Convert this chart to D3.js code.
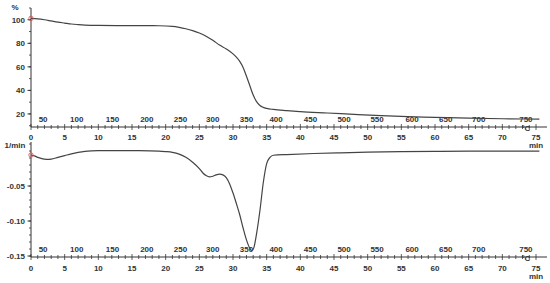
<!DOCTYPE html>
<html>
<head>
<meta charset="utf-8">
<script src="https://cdn.jsdelivr.net/npm/d3@7"></script>
<style>
    body { margin: 0; background: #fff; }
    svg text { font-family: "Liberation Sans", Arial, sans-serif; font-weight: bold; font-size: 8px; fill: #333; }
</style>
</head>
<body>
<svg></svg>
<script>
// TG curve (mass, %) against time (min)
const tgTime = [0, 1, 2, 3, 4, 5, 6, 7, 8, 10, 13, 16, 19, 21, 22, 23, 24, 25, 26, 27, 28, 29, 30, 30.5, 31, 31.5, 32,
    32.5, 33, 33.5, 34, 34.5, 35, 36, 38, 40, 44, 48, 52, 56, 60, 65, 70, 75.5];
const tgValue = [101.2, 100.8, 100.0, 99.0, 98.0, 97.2, 96.4, 95.9, 95.5, 95.2, 95.1, 95.0, 94.9, 94.4, 93.6, 92.4,
    90.8, 88.7, 86.0, 82.6, 78.5, 75.2, 71.0, 68.2, 64.6, 59.5, 52.0, 44.0, 36.0, 30.5, 27.2, 25.6, 24.7, 23.8, 22.8,
    22.0, 20.8, 19.6, 18.5, 17.7, 17.1, 16.4, 15.9, 15.6];

// DTG curve (1/min) against time (min)
const dtgTime = [0, 0.5, 1, 1.5, 2, 2.5, 3, 4, 5, 6, 7, 8, 9, 10, 13, 16, 19, 20, 21, 22, 23, 24, 25, 25.5, 26, 26.5,
    27, 27.5, 28, 28.5, 29, 29.5, 30, 30.5, 31, 31.5, 32, 32.5, 32.8, 33.1, 33.5, 34, 34.5, 35, 35.5, 36, 38, 42, 46,
    50, 55, 60, 65, 70, 75.5];
const dtgValue = [-0.0057, -0.007, -0.009, -0.0105, -0.0115, -0.012, -0.0115, -0.009, -0.0065, -0.004, -0.002,
    -0.0005, 0.0003, 0.0006, 0.0007, 0.0006, 0, -0.0008, -0.002, -0.0045, -0.009, -0.016, -0.025, -0.031, -0.035,
    -0.037, -0.036, -0.034, -0.033, -0.034, -0.038, -0.047, -0.06, -0.075, -0.091, -0.11, -0.127, -0.139, -0.1425,
    -0.138, -0.118, -0.085, -0.045, -0.018, -0.009, -0.006, -0.005, -0.0035, -0.0025, -0.0015, -0.0008, -0.0004,
    -0.0002, 0, 0];

// temperature labels and the time at which they sit
const tempLabels = [50, 100, 150, 200, 250, 300, 350, 400, 450, 500, 550, 600, 650, 700, 750];
const tempTimes = [1.8, 6.8, 12.1, 17.2, 22.2, 27.0, 32.0, 36.4, 41.5, 46.5, 51.4, 56.6, 61.6, 66.5, 73.5];

const timeTicks = [0, 5, 10, 15, 20, 25, 30, 35, 40, 45, 50, 55, 60, 65, 70, 75];
const tgTicks = [20, 40, 60, 80, 100];
const dtgTicks = [-0.05, -0.10, -0.15];

const width = 550;
const height = 283;
const svg = d3.select("svg").attr("width", width).attr("height", height);

const x = d3.scaleLinear().domain([0, 75]).range([31, 536]);
const xEnd = 547;

const panels = [
    {
        y: d3.scaleLinear().domain([8.9, 110]).range([127, 8]),
        time: tgTime, value: tgValue,
        ticks: tgTicks, minorStep: 10, format: d => d,
        unit: "%", unitY: 7, tempY: 119, timeY: 137
    },
    {
        y: d3.scaleLinear().domain([-0.1514, 0.0129]).range([257, 142]),
        time: dtgTime, value: dtgValue,
        ticks: dtgTicks, minorStep: 0.01, format: d => "-" + d3.format(".2f")(-d),
        unit: "1/min", unitY: 145, tempY: 249, timeY: 268
    }
];

const line = d3.line().curve(d3.curveMonotoneX);

panels.forEach(function (p) {
    const g = svg.append("g");
    const [y0, y1] = p.y.range();

    // y axis
    g.append("line")
        .attr("x1", x(0)).attr("x2", x(0))
        .attr("y1", y0).attr("y2", y1)
        .attr("stroke", "#333").attr("stroke-width", 1);

    const [d0, d1] = p.y.domain();
    const minor = d3.range(Math.ceil(d0 / p.minorStep), Math.floor(d1 / p.minorStep) + 1)
        .map(i => i * p.minorStep);
    g.selectAll(".ymin").data(minor).join("line")
        .attr("x1", x(0) - 2).attr("x2", x(0))
        .attr("y1", d => p.y(d)).attr("y2", d => p.y(d))
        .attr("stroke", "#333").attr("stroke-width", 0.8);

    g.selectAll(".ymaj").data(p.ticks).join("line")
        .attr("x1", x(0) - 3.5).attr("x2", x(0))
        .attr("y1", d => p.y(d)).attr("y2", d => p.y(d))
        .attr("stroke", "#333").attr("stroke-width", 1);

    g.selectAll(".ylab").data(p.ticks).join("text")
        .attr("x", x(0) - 6).attr("y", d => p.y(d) + 3)
        .attr("text-anchor", "end")
        .text(p.format);

    g.append("text")
        .attr("x", 15).attr("y", p.unitY + 3)
        .attr("text-anchor", "middle")
        .text(p.unit);

    // x axis (time) with crossing ticks
    g.append("line")
        .attr("x1", x(0)).attr("x2", xEnd)
        .attr("y1", y0).attr("y2", y0)
        .attr("stroke", "#333").attr("stroke-width", 1);

    g.selectAll(".xmin").data(d3.range(0, 76)).join("line")
        .attr("x1", d => x(d)).attr("x2", d => x(d))
        .attr("y1", d => y0 - (d % 5 === 0 ? 3 : 2))
        .attr("y2", d => y0 + (d % 5 === 0 ? 3 : 2))
        .attr("stroke", "#333").attr("stroke-width", 0.8);

    g.selectAll(".xlab").data(timeTicks).join("text")
        .attr("x", d => x(d)).attr("y", p.timeY + 3)
        .attr("text-anchor", "middle")
        .text(d => d);

    g.append("text")
        .attr("x", x(75)).attr("y", p.timeY + 11)
        .attr("text-anchor", "middle")
        .text("min");

    g.append("text")
        .attr("x", x(73.5)).attr("y", y0 + 4)
        .attr("text-anchor", "middle")
        .text("°C");

    // temperature labels
    g.selectAll(".tlab").data(tempLabels).join("text")
        .attr("x", (d, i) => x(tempTimes[i])).attr("y", p.tempY + 3)
        .attr("text-anchor", "middle")
        .text(d => d);

    // curve
    const pts = p.time.map((t, i) => [x(t), p.y(p.value[i])]);
    g.append("path")
        .attr("d", line(pts))
        .attr("fill", "none")
        .attr("stroke", "#444")
        .attr("stroke-width", 1.2);

    // start marker
    g.append("circle")
        .attr("cx", pts[0][0]).attr("cy", pts[0][1])
        .attr("r", 2.2)
        .attr("fill", "none")
        .attr("stroke", "#d9534f")
        .attr("stroke-width", 0.9);
});
</script>
</body>
</html>
